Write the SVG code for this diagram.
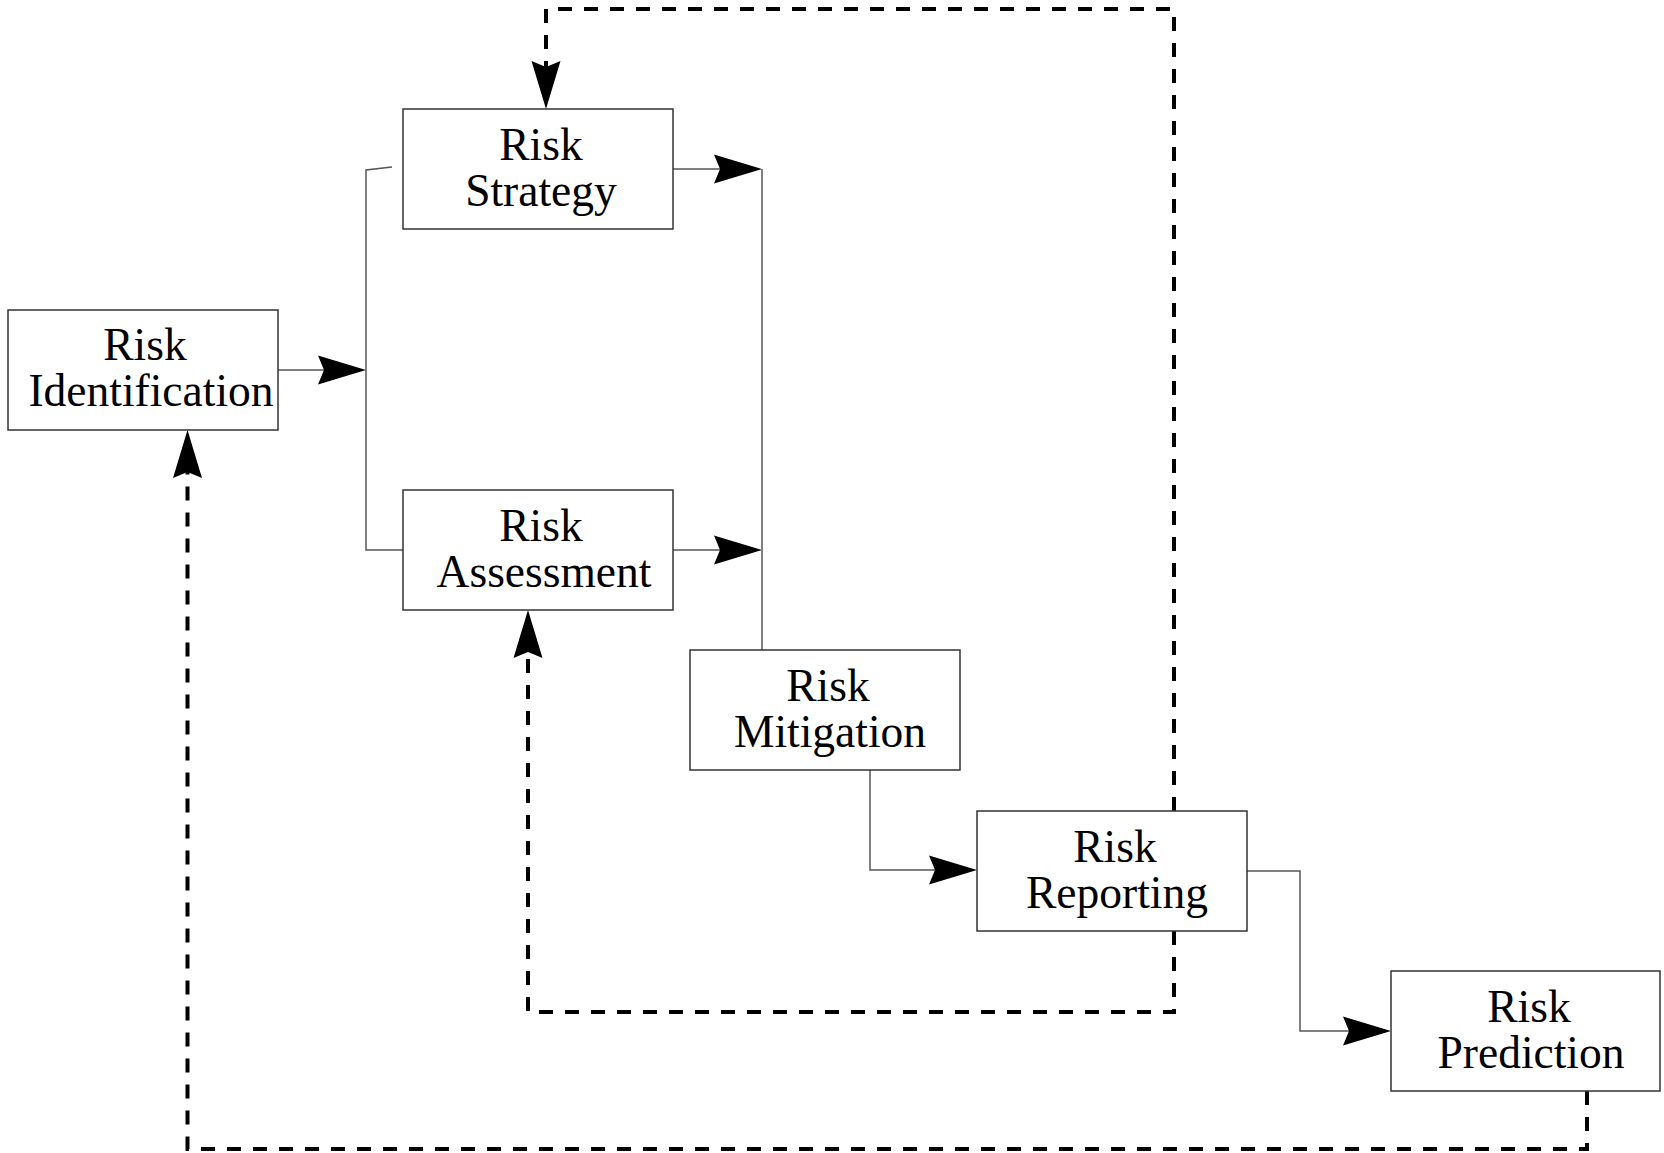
<svg xmlns="http://www.w3.org/2000/svg" width="1664" height="1153" viewBox="0 0 1664 1153">
<style>
.box{fill:#fff;stroke:#333;stroke-width:1.5}
.lbl{font-family:"Liberation Serif","Times New Roman",serif;font-size:45.5px;fill:#000;text-anchor:middle}
.solid{fill:none;stroke:#555;stroke-width:1.5}
.dash{fill:none;stroke:#000;stroke-width:4;stroke-dasharray:14 12}
</style>
<defs>
<marker id="ah" viewBox="-8 -16 52 32" refX="0" refY="0" markerWidth="52" markerHeight="32" markerUnits="userSpaceOnUse" orient="auto">
<path d="M42,0 L-6,-14.5 L0,0 L-6,14.5 Z" fill="#000"/>
</marker>
</defs>
<rect width="1664" height="1153" fill="#fff"/>
<g id="connectors">
<path class="solid" d="M278,370 H324" marker-end="url(#ah)"/>
<path class="solid" d="M392,167 L366,170 V550 H403"/>
<path class="solid" d="M672,169 H720" marker-end="url(#ah)"/>
<path class="solid" d="M672,550 H720" marker-end="url(#ah)"/>
<path class="solid" d="M762,169 V650"/>
<path class="solid" d="M870,770 V870 H935" marker-end="url(#ah)"/>
<path class="solid" d="M1247,871 H1300 V1031 H1349" marker-end="url(#ah)"/>
<path class="dash" d="M1174,811 V9 H546 V67" marker-end="url(#ah)"/>
<path class="dash" d="M1174,931 V1012 H528 V652" marker-end="url(#ah)"/>
<path class="dash" d="M1587,1091 V1149 H187.5 V472" marker-end="url(#ah)"/>
</g>
<g id="risk-identification">
<rect class="box" x="8" y="310" width="270" height="120"/>
<text class="lbl"><tspan x="145" y="360">Risk</tspan><tspan x="151" y="406">Identification</tspan></text>
</g>
<g id="risk-strategy">
<rect class="box" x="403" y="109" width="270" height="120"/>
<text class="lbl"><tspan x="541" y="160">Risk</tspan><tspan x="541" y="206">Strategy</tspan></text>
</g>
<g id="risk-assessment">
<rect class="box" x="403" y="490" width="270" height="120"/>
<text class="lbl"><tspan x="541" y="541">Risk</tspan><tspan x="544" y="587">Assessment</tspan></text>
</g>
<g id="risk-mitigation">
<rect class="box" x="690" y="650" width="270" height="120"/>
<text class="lbl"><tspan x="828" y="701">Risk</tspan><tspan x="830" y="747">Mitigation</tspan></text>
</g>
<g id="risk-reporting">
<rect class="box" x="977" y="811" width="270" height="120"/>
<text class="lbl"><tspan x="1115" y="862">Risk</tspan><tspan x="1117" y="908">Reporting</tspan></text>
</g>
<g id="risk-prediction">
<rect class="box" x="1391" y="971" width="269" height="120"/>
<text class="lbl"><tspan x="1529" y="1022">Risk</tspan><tspan x="1531" y="1068">Prediction</tspan></text>
</g>
</svg>
